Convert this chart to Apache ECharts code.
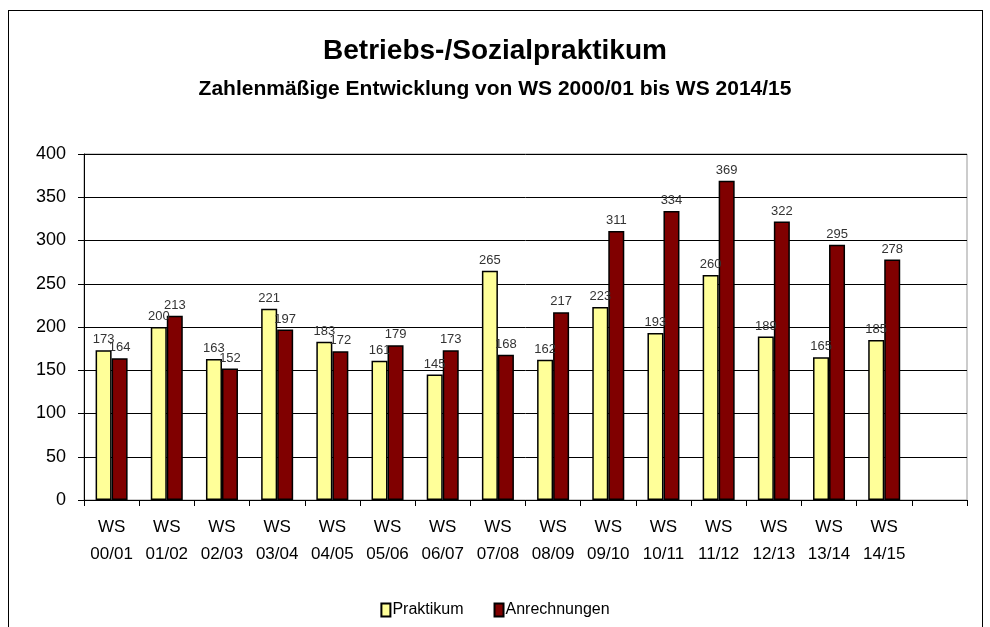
<!DOCTYPE html>
<html>
<head>
<meta charset="utf-8">
<script src="https://cdn.jsdelivr.net/npm/echarts@6/dist/echarts.min.js"></script>
<style>
  html, body { margin: 0; padding: 0; background: #fff; }
  .frame {
    position: absolute; left: 8px; top: 10px; width: 975px; height: 640px;
    border: 1px solid #000; box-sizing: border-box;
  }
  #chartBox { position: absolute; left: 0; top: 0; width: 990px; height: 627px; }
</style>
</head>
<body>
<div class="frame"></div>
<div id="chartBox"></div>
<script>
// Semester (letzte Kategorie bleibt leer)
const semester = ['WS\n00/01', 'WS\n01/02', 'WS\n02/03', 'WS\n03/04', 'WS\n04/05', 'WS\n05/06', 'WS\n06/07',
  'WS\n07/08', 'WS\n08/09', 'WS\n09/10', 'WS\n10/11', 'WS\n11/12', 'WS\n12/13', 'WS\n13/14', 'WS\n14/15', ''];
// Praktikum
const praktikum = [173, 200, 163, 221, 183, 161, 145, 265, 162, 223, 193, 260, 189, 165, 185];
// Anrechnungen
const anrechnungen = [164, 213, 152, 197, 172, 179, 173, 168, 217, 311, 334, 369, 322, 295, 278];

const font = 'Liberation Sans, Arial, sans-serif';

const getOptions = () => {
  return {
    animation: false,
    color: ['#FFFF99', '#800000'],
    title: {
      text: 'Betriebs-/Sozialpraktikum',
      subtext: 'Zahlenmäßige Entwicklung von WS 2000/01 bis WS 2014/15',
      left: 'center',
      top: 32,
      itemGap: 14,
      textStyle: { fontFamily: font, fontSize: 28, fontWeight: 'bold', color: '#000' },
      subtextStyle: { fontFamily: font, fontSize: 21, fontWeight: 'bold', color: '#000' }
    },
    legend: {
      bottom: 4,
      left: 'center',
      itemWidth: 9,
      itemHeight: 13,
      itemGap: 30,
      icon: 'rect',
      textStyle: { fontFamily: font, fontSize: 16, color: '#000', padding: [0, 0, 0, -3] },
      data: ['Praktikum', 'Anrechnungen']
    },
    grid: {
      left: 84,
      right: 23,
      top: 154,
      bottom: 127,
      show: true,
      borderColor: '#999',
      borderWidth: 1
    },
    xAxis: [
      {
        type: 'category',
        data: semester,
        axisTick: { show: true, alignWithLabel: false, length: 6, lineStyle: { color: '#000' } },
        axisLine: { lineStyle: { color: '#000', width: 1 } },
        axisLabel: {
          interval: 0,
          fontFamily: font,
          fontSize: 17,
          color: '#000',
          lineHeight: 27,
          margin: 14
        }
      }
    ],
    yAxis: [
      {
        type: 'value',
        min: 0,
        max: 400,
        interval: 50,
        axisLine: { show: true, lineStyle: { color: '#000' } },
        axisTick: { show: true, length: 6, lineStyle: { color: '#000' } },
        splitLine: { lineStyle: { color: '#000', width: 1 } },
        axisLabel: { fontFamily: font, fontSize: 18, color: '#000', margin: 18 }
      }
    ],
    series: [
      {
        name: 'Praktikum',
        type: 'bar',
        barGap: '0%',
        barCategoryGap: '42%',
        itemStyle: { borderColor: '#000', borderWidth: 1.5 },
        label: {
          show: true,
          position: 'top',
          distance: 4,
          fontFamily: font,
          fontSize: 13,
          color: '#333'
        },
        data: praktikum
      },
      {
        name: 'Anrechnungen',
        type: 'bar',
        barGap: '0%',
        barCategoryGap: '42%',
        itemStyle: { borderColor: '#000', borderWidth: 1.5 },
        label: {
          show: true,
          position: 'top',
          distance: 4,
          fontFamily: font,
          fontSize: 13,
          color: '#333'
        },
        data: anrechnungen
      }
    ]
  };
};

var myChart = echarts.init(document.getElementById('chartBox'));
myChart.setOption(getOptions(), true);
</script>
</body>
</html>
